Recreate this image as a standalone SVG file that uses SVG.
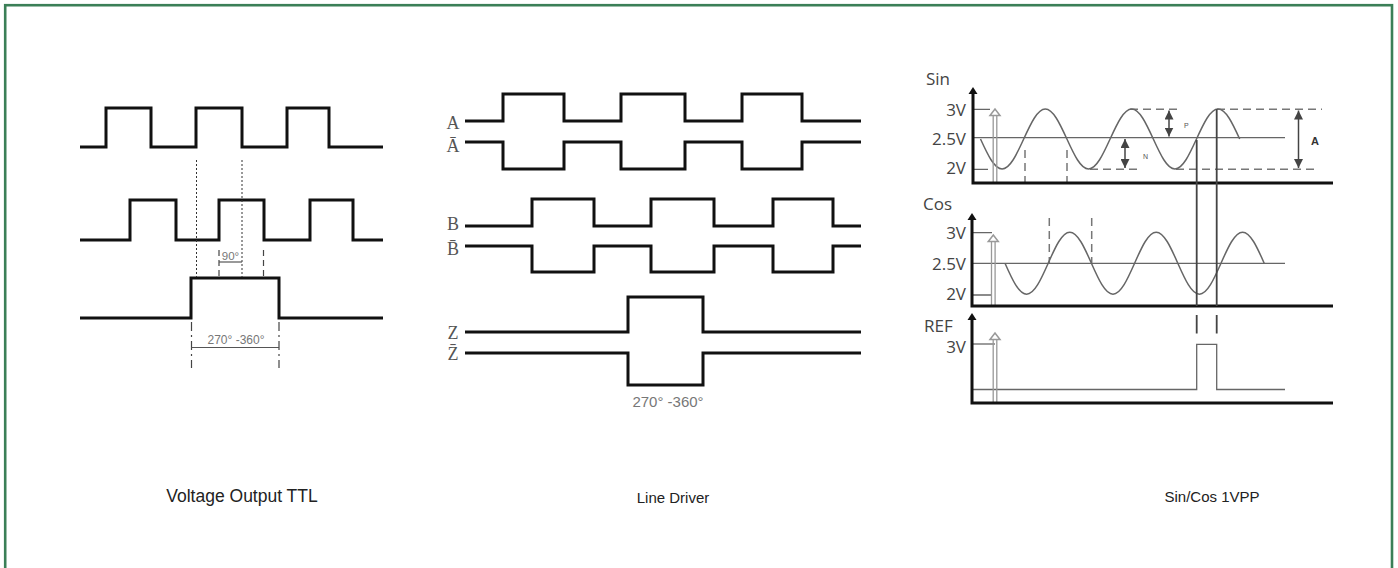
<svg xmlns="http://www.w3.org/2000/svg" width="1398" height="568" viewBox="0 0 1398 568">
<defs>
<style>
.sq{fill:none;stroke:#111;stroke-width:3;stroke-linejoin:miter}
.dot{fill:none;stroke:#333;stroke-width:1;stroke-dasharray:2,2}
.dsh{fill:none;stroke:#444;stroke-width:1.2;stroke-dasharray:6,4}
.dd{fill:none;stroke:#444;stroke-width:1.2;stroke-dasharray:9,4,2,4}
.thin{fill:none;stroke:#555;stroke-width:1.2}
.small{font-family:"Liberation Sans",Arial,sans-serif;fill:#777}
.lbl{font-family:"Liberation Serif","Times New Roman",serif;font-size:18px;fill:#555}
.ax{fill:none;stroke:#111;stroke-width:3}
.wave{fill:none;stroke:#666;stroke-width:1.5}
.grid{fill:none;stroke:#666;stroke-width:1.3}
.vl{fill:none;stroke:#444;stroke-width:1.8}
.gdash{fill:none;stroke:#777;stroke-width:1.5;stroke-dasharray:8,5}
.vt{font-family:"Open Sans","Noto Sans",sans-serif;font-size:17px;fill:#444}
.cap{font-family:"Liberation Sans",Arial,sans-serif;fill:#222;text-anchor:middle}
.hol{fill:none;stroke:#999;stroke-width:1.3}
.holh{fill:#fff;stroke:#999;stroke-width:1.5}
</style>
<marker id="da" viewBox="0 0 10 10" refX="10" refY="5" markerWidth="6" markerHeight="6" orient="auto-start-reverse"><path d="M0,0 L10,5 L0,10 z" fill="#444"/></marker>
</defs>
<rect x="5.2" y="5.2" width="1386.8" height="600" fill="#fff" stroke="#3b7f57" stroke-width="2.6"/>

<g id="ttl">
<path class="sq" d="M80,147 H106 V108 H151 V147 H196 V108 H242 V147 H287 V108 H329 V147 H383"/>
<path class="sq" d="M80,240 H130 V200 H176 V240 H219 V200 H264 V240 H310 V200 H353 V240 H383"/>
<path class="sq" d="M80,318 H191 V278 H279 V318 H383"/>
<path class="dot" d="M196.5,160 V277 M242,160 V277"/>
<path class="dsh" d="M219,250 V277 M263.5,250 V277"/>
<path class="thin" d="M219,262 H242" stroke-width="1"/>
<text class="small" x="230.5" y="259.5" font-size="11.5" text-anchor="middle">90°</text>
<path class="dd" d="M191.5,322 V368 M279,322 V368"/>
<path class="thin" d="M191.5,347.5 H279" stroke-width="1"/>
<text class="small" x="236" y="344" font-size="12" text-anchor="middle">270° -360°</text>
</g>

<g id="line-driver">
<text class="lbl" x="453" y="128.5" text-anchor="middle">A</text>
<text class="lbl" x="453" y="151.5" text-anchor="middle">Ā</text>
<text class="lbl" x="453" y="229.5" text-anchor="middle">B</text>
<text class="lbl" x="453" y="255" text-anchor="middle">B̄</text>
<text class="lbl" x="453" y="338.5" text-anchor="middle">Z</text>
<text class="lbl" x="453" y="359.5" text-anchor="middle">Z̄</text>
<path class="sq" d="M465,121 H503 V94 H564 V121 H621 V94 H685 V121 H742 V94 H802 V121 H861"/>
<path class="sq" d="M465,142 H503 V169 H564 V142 H621 V169 H685 V142 H742 V169 H802 V142 H861"/>
<path class="sq" d="M465,226 H532 V199 H594 V226 H651 V199 H714 V226 H773 V199 H833 V226 H861"/>
<path class="sq" d="M465,246 H532 V272 H594 V246 H651 V272 H714 V246 H773 V272 H833 V246 H861"/>
<path class="sq" d="M465,332 H628 V297 H703 V332 H861"/>
<path class="sq" d="M465,353 H628 V385 H703 V353 H861"/>
<text class="small" x="668" y="407" font-size="15" text-anchor="middle" fill="#888">270° -360°</text>
</g>

<g id="sincos">
<!-- Sin -->
<text class="vt" x="926" y="85">Sin</text>
<text class="vt" x="966" y="116" text-anchor="end">3V</text>
<text class="vt" x="966" y="145" text-anchor="end">2.5V</text>
<text class="vt" x="966" y="174" text-anchor="end">2V</text>
<path class="grid" d="M973,109.3 H990 M973,169.3 H988 M973,137.7 H1285"/>
<path class="gdash" d="M1025,150 V182 M1067,150 V182"/>
<path class="gdash" d="M1130,109.3 H1182 M1217,109.3 H1322 M1090,169.3 H1138 M1176,169.3 H1316"/>
<path class="wave" d="M980.5,139 c7.04,15.37 13.78,30 21.6,30 c7.82,0 14.56,-14.63 21.6,-30 c7.04,-15.37 13.78,-30 21.6,-30 c7.82,0 14.56,14.63 21.6,30 c7.04,15.37 13.78,30 21.6,30 c7.82,0 14.56,-14.63 21.6,-30 c7.04,-15.37 13.78,-30 21.6,-30 c7.82,0 14.56,14.63 21.6,30 c7.04,15.37 13.78,30 21.6,30 c7.82,0 14.56,-14.63 21.6,-30 c7.04,-15.37 13.78,-30 21.6,-30 c7.82,0 14.56,14.63 21.6,30"/>
<path fill="none" stroke="#444" stroke-width="1.5" marker-start="url(#da)" marker-end="url(#da)" d="M1169,110.5 V136.5"/>
<path fill="none" stroke="#444" stroke-width="1.5" marker-start="url(#da)" marker-end="url(#da)" d="M1125,139 V168"/>
<path fill="none" stroke="#444" stroke-width="1.5" marker-start="url(#da)" marker-end="url(#da)" d="M1298.5,110.5 V168"/>
<text x="1184" y="128" font-family="Liberation Sans,Arial,sans-serif" font-size="7" fill="#555">P</text>
<text x="1143" y="158.5" font-family="Liberation Sans,Arial,sans-serif" font-size="7" fill="#555">N</text>
<text x="1311" y="144.5" font-family="Liberation Sans,Arial,sans-serif" font-size="11" font-weight="bold" fill="#333">A</text>
<path class="hol" d="M993.2,115 V182 M996.8,115 V182"/>
<path class="holh" d="M990,115.5 L995,109 L1000,115.5 Z"/>
<path class="ax" d="M973,93 V183 H1333"/>
<path d="M968.5,94 L973,87 L977.5,94 Z" fill="#111"/>

<!-- Cos -->
<text class="vt" x="923" y="210">Cos</text>
<text class="vt" x="966" y="239" text-anchor="end">3V</text>
<text class="vt" x="966" y="270" text-anchor="end">2.5V</text>
<text class="vt" x="966" y="299.5" text-anchor="end">2V</text>
<path class="grid" d="M972,232.7 H992 M972,295 H992 M972,263.3 H1285"/>
<path class="gdash" d="M1049.3,218 V263 M1091.7,218 V263"/>
<path class="wave" d="M1005,263.2 c7.04,15.88 13.78,31 21.6,31 c7.82,0 14.56,-15.12 21.6,-31 c7.04,-15.88 13.78,-31 21.6,-31 c7.82,0 14.56,15.12 21.6,31 c7.04,15.88 13.78,31 21.6,31 c7.82,0 14.56,-15.12 21.6,-31 c7.04,-15.88 13.78,-31 21.6,-31 c7.82,0 14.56,15.12 21.6,31 c7.04,15.88 13.78,31 21.6,31 c7.82,0 14.56,-15.12 21.6,-31 c7.04,-15.88 13.78,-31 21.6,-31 c7.82,0 14.56,15.12 21.6,31"/>
<path class="hol" d="M991.5,241 V306 M995.1,241 V306"/>
<path class="holh" d="M988.3,241.5 L993.3,235 L998.3,241.5 Z"/>
<path class="ax" d="M972,219 V306 H1333"/>
<path d="M967.5,220 L972,213 L976.5,220 Z" fill="#111"/>

<!-- sync lines -->
<path class="vl" d="M1196.7,140 V306 M1216.7,109.3 V306"/>
<path class="vl" d="M1196.7,315 V333.5 M1216.7,315 V333.5"/>

<!-- REF -->
<text class="vt" x="924" y="332">REF</text>
<text class="vt" x="966" y="353" text-anchor="end">3V</text>
<path class="grid" d="M972,344 H995"/>
<path class="grid" d="M972,389.5 H1196.7 V344.3 H1216.7 V389.5 H1285" stroke="#555" stroke-width="1.6"/>
<path class="hol" d="M993.2,339 V403 M996.8,339 V403"/>
<path class="holh" d="M990,339.5 L995,333 L1000,339.5 Z"/>
<path class="ax" d="M972,319 V403 H1333"/>
<path d="M967.5,320 L972,313 L976.5,320 Z" fill="#111"/>
</g>

<g id="captions">
<text class="cap" x="242" y="501.5" font-size="17.5">Voltage Output TTL</text>
<text class="cap" x="673" y="503" font-size="15">Line Driver</text>
<text class="cap" x="1212" y="501.5" font-size="15">Sin/Cos 1VPP</text>
</g>
</svg>
